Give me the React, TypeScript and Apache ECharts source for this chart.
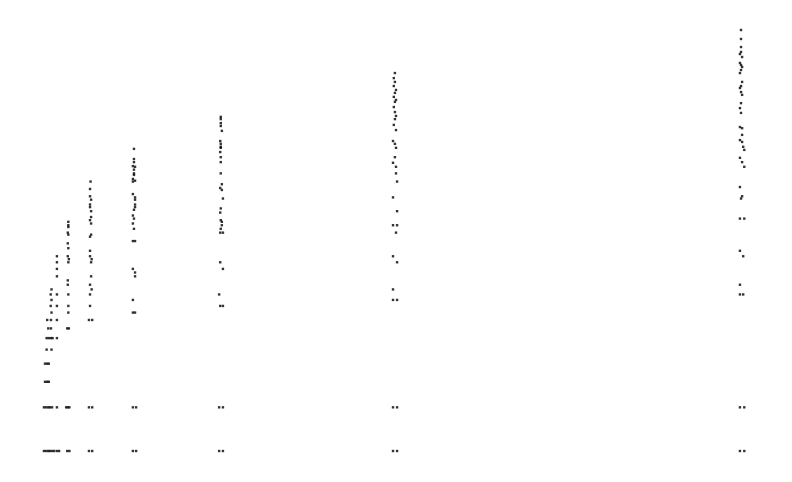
import React, { useEffect, useRef } from "react";
import * as echarts from "echarts";

// Each column: [x, value] points (x is linear, value on a base-2 log scale)
const colNear0: number[][] = [
  [-0.5, 1], [-0.1, 1], [0.3, 1], [0.6, 1], [1.0, 1], [1.4, 1],
  [-0.5, 2], [-0.1, 2], [0.3, 2], [0.6, 2], [1.0, 2],
  [-0.3, 3], [0.1, 3], [0.4, 3],
  [-0.3, 4], [0.1, 4], [0.4, 4],
  [0.0, 5], [0.9, 5],
  [0.0, 6], [0.4, 6], [0.8, 6], [1.1, 6],
  [0.3, 7], [0.8, 7],
  [0.1, 8], [0.8, 8],
  [0.9, 9],
  [0.75, 10],
  [0.9, 11],
  [0.75, 12],
  [0.9, 13],
];

const col2: number[][] = [
  [1.9, 1], [2.3, 1], [1.9, 2], [1.9, 6], [1.9, 8], [1.9, 10], [1.9, 12],
  [1.9, 16], [1.9, 18], [1.9, 20], [1.9, 22],
];

const col4: number[][] = [
  [3.8, 1], [4.2, 1], [3.6, 2], [3.9, 2], [4.2, 2], [3.8, 7], [4.1, 7],
  [4.0, 9], [4.0, 10], [4.0, 12], [3.9, 14], [3.9, 15], [4.0, 20], [4.1, 21],
  [3.9, 22], [4.0, 25], [3.9, 27], [4.0, 31], [3.9, 32], [4.0, 35], [4.0, 36],
  [4.0, 38],
];

const col8: number[][] = [
  [7.8, 1], [8.4, 1], [7.8, 2], [8.4, 2], [7.8, 8], [8.4, 8], [8.0, 10],
  [8.0, 12], [8.3, 13], [8.0, 14], [8.2, 16], [8.2, 20], [8.3, 21], [8.0, 22],
  [8.0, 24], [8.0, 30], [8.2, 31], [8.2, 37], [8.0, 39], [8.2, 41], [8.2, 45],
  [8.0, 48], [8.0, 50], [8.2, 54], [8.0, 57], [8.0, 64], [8.1, 72],
];

const col16: number[][] = [
  [15.9, 1], [16.5, 1], [15.9, 2], [16.5, 2], [15.9, 9], [16.3, 9], [15.9, 11],
  [16.3, 16], [16.3, 17], [15.9, 18], [15.9, 28], [16.3, 28], [16.1, 34],
  [15.9, 37], [16.1, 40], [15.9, 42], [16.1, 46], [16.3, 48], [16.3, 50],
  [16.3, 54], [16.3, 56], [15.9, 59], [15.9, 72], [16.3, 73], [15.9, 75],
  [16.1, 80], [16.1, 82], [16.1, 87], [16.3, 91], [15.9, 92], [16.1, 98],
  [16.1, 103], [16.1, 121],
];

const col32: number[][] = [
  [31.8, 1], [32.5, 1], [31.8, 2], [32.5, 2], [32.0, 10], [32.5, 10],
  [31.8, 12], [32.5, 18], [32.0, 20], [32.0, 32], [32.5, 32], [32.1, 34],
  [32.3, 36], [32.3, 38], [32.1, 39], [32.0, 44], [32.1, 47], [32.5, 55],
  [32.3, 63], [32.0, 65], [32.3, 69], [32.1, 82], [32.1, 98], [32.1, 106],
  [32.0, 115], [32.1, 123], [32.1, 125], [32.1, 131], [32.0, 137], [32.3, 161],
  [32.1, 174], [32.1, 182], [32.1, 194], [32.1, 201],
];

const col64: number[][] = [
  [63.85, 1], [64.6, 1], [63.85, 2], [64.6, 2], [63.85, 11], [64.6, 11],
  [63.85, 13], [64.6, 20], [63.85, 22], [64.4, 32], [63.85, 36], [64.6, 36],
  [64.6, 45], [63.85, 56], [64.6, 72], [64.4, 82], [64.4, 91], [63.85, 97],
  [64.2, 106], [64.4, 123], [64.2, 131], [63.85, 137], [64.4, 163], [64.0, 177],
  [64.2, 194], [64.4, 204], [64.2, 217], [64.0, 235], [64.2, 255], [64.4, 263],
  [64.0, 276], [64.2, 294], [64.4, 308], [64.0, 328], [64.2, 350], [64.0, 372],
  [64.2, 403],
];

const col128: number[][] = [
  [127.8, 1], [128.6, 1], [127.8, 2], [128.6, 2], [127.8, 12], [128.4, 12],
  [127.8, 14], [128.4, 22], [127.8, 24], [127.8, 40], [128.6, 40], [128.0, 55],
  [128.2, 57], [127.8, 66], [128.6, 91], [128.2, 98], [127.8, 105], [128.6, 119],
  [128.4, 125], [128.2, 135], [127.8, 139], [128.2, 151], [128.2, 168],
  [127.8, 171], [128.0, 214], [127.8, 231], [128.0, 250], [128.2, 285],
  [128.0, 298], [127.8, 318], [128.0, 328], [128.2, 350], [127.8, 403],
  [128.0, 423], [128.2, 444], [128.0, 458], [127.8, 473], [128.2, 520],
  [127.8, 545], [128.0, 563], [128.0, 609], [128.0, 692], [128.0, 798],
];

const columns = [colNear0, col2, col4, col8, col16, col32, col64, col128];

export default function App() {
  const ref = useRef<HTMLDivElement>(null);
  useEffect(() => {
    if (!ref.current) return;
    const chart = echarts.init(ref.current, null, { renderer: "svg" });
    chart.setOption({
      animation: false,
      backgroundColor: "#ffffff",
      grid: { left: 41.2, right: 13, top: 14.3, bottom: 31, containLabel: false },
      xAxis: {
        type: "value",
        min: -1,
        max: 135,
        show: false,
        splitLine: { show: false },
      },
      yAxis: {
        type: "log",
        logBase: 2,
        min: 1,
        max: 1024,
        show: false,
        splitLine: { show: false },
      },
      series: columns.map((c) => ({
        type: "scatter",
        data: c,
        symbol: "rect",
        symbolSize: 2.4,
        itemStyle: { color: "#000000" },
        silent: true,
      })),
    });
    return () => chart.dispose();
  }, []);
  return (
    <div
      ref={ref}
      style={{ position: "fixed", left: 0, top: 0, width: 792, height: 482, background: "#fff" }}
    />
  );
}
